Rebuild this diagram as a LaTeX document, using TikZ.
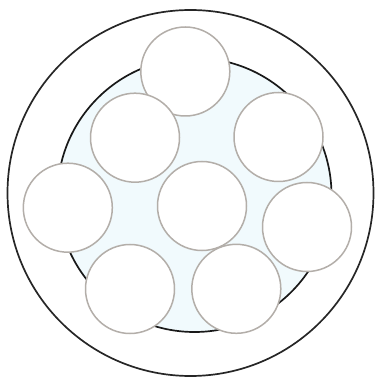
\documentclass[tikz,border=0pt]{standalone}
\usepackage{tikz}
\definecolor{tubefill}{HTML}{F1FAFD}
\definecolor{wiregray}{HTML}{B3AEA9}
\tikzset{
  shell/.style={circle, draw=black!85, line width=1.7pt, inner sep=0pt},
  tube/.style={circle, draw=black!90, fill=tubefill, line width=1.7pt, inner sep=0pt},
  wire/.style={circle, fill=white, draw=wiregray, line width=1.5pt, inner sep=0pt, minimum size=89pt}
}
\begin{document}
\begin{tikzpicture}[x=1pt, y=-1pt]
  \useasboundingbox (0,0) rectangle (380,379);

  % Outer sheath and inner tube
  \node[shell, minimum size=366pt] (sheath) at (190.5,193) {};
  \node[tube, minimum size=274pt] (core) at (194.5,195) {};

  % Strands
  \node[wire] (w1) at (185.3,71.5) {};
  \node[wire] (w2) at (135,137.7) {};
  \node[wire] (w3) at (278.5,137) {};
  \node[wire] (w4) at (67.8,207.7) {};
  \node[wire] (w5) at (202,206) {};
  \node[wire] (w6) at (307,227) {};
  \node[wire] (w7) at (130,289) {};
  \node[wire] (w8) at (236.3,288.8) {};
\end{tikzpicture}
\end{document}
